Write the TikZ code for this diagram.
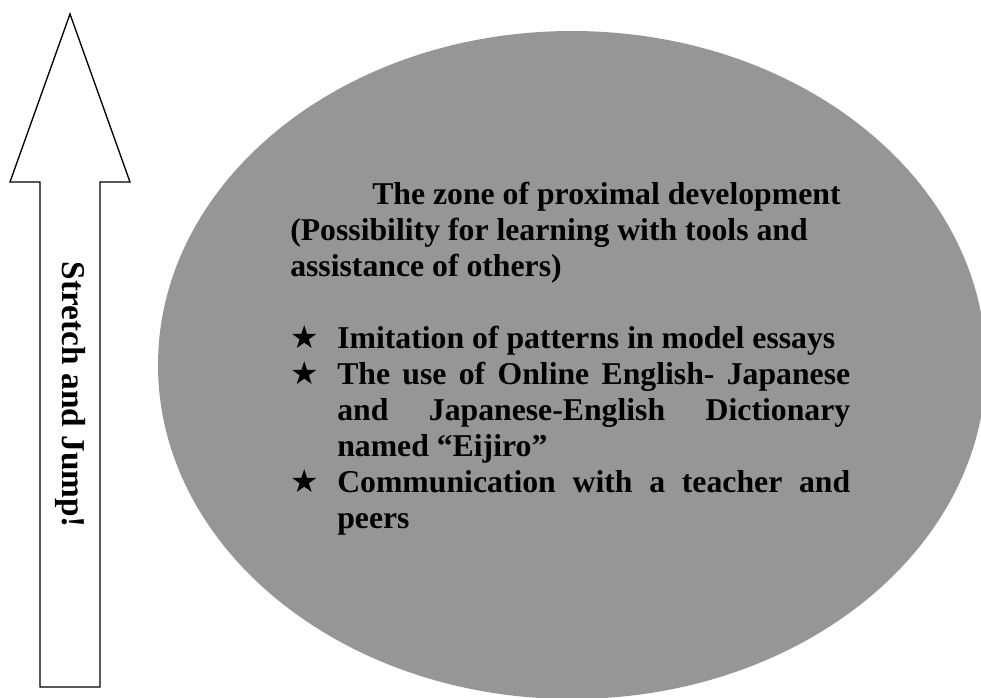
\documentclass[tikz,border=0pt]{standalone}
\usepackage{fontspec}
\setmainfont{Liberation Serif}
\newfontfamily\symfont{DejaVu Sans}
\definecolor{zpdgray}{RGB}{150,150,150}
\tikzset{
  txt/.style={inner sep=0pt, font=\fontsize{23.8}{28}\selectfont\bfseries, text=black},
  bigtxt/.style={inner sep=0pt, font=\fontsize{25}{30}\selectfont\bfseries, text=black},
  starmark/.style={inner sep=0pt, font=\fontsize{23.8}{28}\selectfont\symfont, text=black},
  arrowline/.style={draw=black, line width=1pt, fill=white, line join=miter}
}
\newcommand{\jline}[1]{\makebox[384.75pt][s]{#1}}
\begin{document}
\begin{tikzpicture}[x=0.75pt,y=-0.75pt]
\useasboundingbox (0,0) rectangle (981,697);
% zone ellipse
\fill[zpdgray] (572,365) ellipse [x radius=414, y radius=334];
% stretch arrow
\draw[arrowline] (40,687) -- (100,687) -- (100,182) -- (130,182) -- (70,14) -- (10,182) -- (40,182) -- cycle;
\node[bigtxt, rotate=-90] (sj) at (71,395) {Stretch and Jump!};
% title
\node[txt, anchor=base west] (t1) at (372,204) {The zone of proximal development};
\node[txt, anchor=base west] (t2) at (290,240) {(Possibility for learning with tools and};
\node[txt, anchor=base west] (t3) at (290,276) {assistance of others)};
% bullets
\node[starmark, anchor=base west] (s1) at (290,348) {★};
\node[txt, anchor=base west] (b1) at (337,348) {Imitation of patterns in model essays};
\node[starmark, anchor=base west] (s2) at (290,384) {★};
\node[txt, anchor=base west] (b2) at (337,384) {\jline{The use of Online English- Japanese}};
\node[txt, anchor=base west] (b3) at (337,420) {\jline{and Japanese-English Dictionary}};
\node[txt, anchor=base west] (b4) at (337,456) {named ``Eijiro''};
\node[starmark, anchor=base west] (s3) at (290,492) {★};
\node[txt, anchor=base west] (b5) at (337,492) {\jline{Communication with a teacher and}};
\node[txt, anchor=base west] (b6) at (337,528) {peers};
\end{tikzpicture}
\end{document}
